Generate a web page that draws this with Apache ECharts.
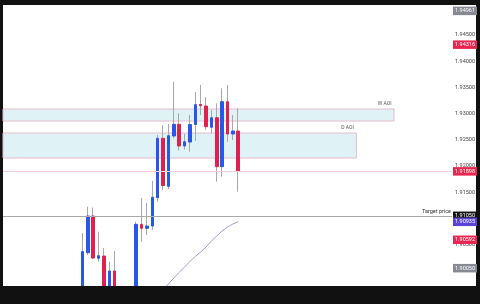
<!DOCTYPE html>
<html><head><meta charset="utf-8">
<script src="https://cdn.jsdelivr.net/npm/echarts@6/dist/echarts.min.js"></script>
<style>
html,body{margin:0;padding:0;background:#111;width:480px;height:304px;overflow:hidden}
#bg{position:absolute;left:3px;top:5px;width:473px;height:281px;background:#fff}
#c{position:absolute;left:0;top:0;width:480px;height:304px}
#foot{position:absolute;left:0;top:286px;width:480px;height:18px;background:#111;z-index:5}
</style></head><body><div id="bg"></div><div id="c"></div><div id="foot"></div>
<script>
// bar positions (bar number on the time scale)
const barIndex = [14,15,16,17,18,19,20,21,22,23,24,25,26,27,28,29,30,31,32,33,34,35,36,37,38,39,40,41,42,43];
const opens  = [1.89481,1.90345,1.91046,1.90239,1.90282,1.89595,1.89996,1.89634,1.89420,1.89480,1.89538,1.90887,1.90811,1.90855,1.91395,1.92529,1.91613,1.92573,1.92796,1.92382,1.92458,1.92792,1.93174,1.93145,1.92739,1.92922,1.91987,1.93227,1.92611,1.92668];
const closes = [1.90365,1.91046,1.90244,1.90288,1.89672,1.89996,1.89634,1.89420,1.89480,1.89540,1.90887,1.90811,1.90855,1.91403,1.92529,1.91628,1.92578,1.92796,1.92382,1.92462,1.92792,1.93170,1.93149,1.92750,1.92922,1.91987,1.93227,1.92611,1.92668,1.91898];
const lows   = [1.89405,1.90302,1.90225,1.90174,1.89595,1.89519,1.89538,1.89350,1.89300,1.89400,1.89443,1.90555,1.90683,1.90779,1.91319,1.91542,1.91561,1.92529,1.92296,1.92315,1.92273,1.92477,1.92973,1.92687,1.92624,1.91700,1.91796,1.92464,1.92496,1.91510];
const highs  = [1.90721,1.91223,1.91208,1.90746,1.90435,1.90174,1.90378,1.89680,1.89650,1.89690,1.90937,1.91389,1.91294,1.91714,1.92592,1.92782,1.92802,1.93609,1.93006,1.92611,1.92973,1.93412,1.93546,1.93317,1.93069,1.93197,1.93483,1.93546,1.92973,1.93101];

// moving average
const maIndex  = [28,29,30,31,32,33,34,35,36,37,38,39,40,41,42,43];
const maValues = [1.89540,1.89643,1.89748,1.89863,1.89968,1.90073,1.90178,1.90273,1.90359,1.90454,1.90569,1.90664,1.90760,1.90836,1.90893,1.90935];

// zones
const zoneNames  = ['W AOI','D AOI'];
const zoneTops   = [1.93088, 1.92630];
const zoneBottoms= [1.92859, 1.92153];
const zoneEnds   = [72, 65];

// axis tick labels
const tickValues = [1.905,1.915,1.920,1.925,1.930,1.935,1.940,1.945];

// price tags
const tagValues = [1.94961, 1.94316, 1.91898, 1.91050, 1.90935, 1.90592, 1.90050];
const tagColors = ['#878a93','#e8264f','#e8264f','#151515','#5b44d4','#e8264f','#878a93'];
const currentPrice = 1.91898;
const targetPrice = 1.91050;
const targetLabel = 'Target price';

const BLUE = '#2758e6', RED = '#e0204f', WICK = '#a8a8a8';

const chart = echarts.init(document.getElementById('c'), null, {renderer:'canvas'});

const tagLines = tagValues.map((v, i) => ({
  yAxis: v,
  lineStyle: {color: 'transparent', width: 1},
  label: {
    show: true, position: 'end', distance: 1,
    formatter: () => v.toFixed(5),
    color: '#fff', fontSize: 5.5, fontFamily: 'Roboto',
    backgroundColor: tagColors[i], padding: [1.5, 2, 1, 2]
  }
}));

const option = {
  animation: false,
  backgroundColor: 'transparent',
  grid: {left: 3, right: 28, top: 5, bottom: 18},
  xAxis: {type: 'value', min: -0.8, max: 82.8, show: false},
  yAxis: {
    type: 'value', position: 'right', min: 1.8971, max: 1.95073,
    axisLine: {show: false}, axisTick: {show: false}, splitLine: {show: false},
    axisLabel: {
      customValues: tickValues, margin: 3, fontSize: 5.5, color: '#444',
      fontFamily: 'Roboto', formatter: v => v.toFixed(5)
    }
  },
  series: [
    {
      type: 'candlestick', z: 2, barWidth: 0.5, clip: true,
      data: barIndex.map((x, i) => [x, opens[i], closes[i], lows[i], highs[i]]),
      itemStyle: {color: WICK, color0: WICK, borderColor: WICK, borderColor0: WICK, borderWidth: 1}
    },
    {
      type: 'candlestick', z: 3, barWidth: 3, clip: true,
      data: barIndex.map((x, i) => [x, opens[i], closes[i], Math.min(opens[i], closes[i]), Math.max(opens[i], closes[i])]),
      itemStyle: {color: BLUE, color0: RED, borderColor: BLUE, borderColor0: RED, borderWidth: 1},
      markArea: {
        silent: true, z: 1,
        itemStyle: {color: '#dff3f7', borderColor: '#e6bccb', borderWidth: 1},
        label: {
          show: true, position: ['100%', 0], align: 'right', verticalAlign: 'bottom',
          offset: [-3, -2], fontSize: 5, color: '#555', fontFamily: 'Roboto'
        },
        data: zoneNames.map((n, i) => [
          {name: n, yAxis: zoneTops[i]},
          {xAxis: zoneEnds[i], yAxis: zoneBottoms[i]}
        ])
      },
      markLine: {
        silent: true, symbol: ['none', 'none'], animation: false, precision: 5,
        data: [
          {yAxis: currentPrice, lineStyle: {color: '#f5cfda', width: 1, type: 'solid'}, label: {show: false}},
          {yAxis: targetPrice, lineStyle: {color: '#a9a9a9', width: 1, type: 'solid'},
            label: {show: true, position: 'insideEndTop', formatter: targetLabel, fontSize: 5.5, color: '#333', fontFamily: 'Roboto', distance: 1}},
          ...tagLines
        ]
      }
    },
    {
      type: 'line', z: 2, symbol: 'none', clip: true,
      data: maIndex.map((x, i) => [x, maValues[i]]),
      lineStyle: {color: '#a29ec3', width: 1}
    }
  ]
};
chart.setOption(option);
</script></body></html>
